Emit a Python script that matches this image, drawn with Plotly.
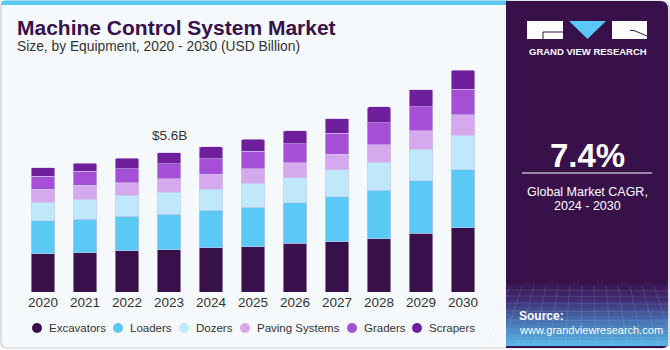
import plotly.graph_objects as go

years = ["2020", "2021", "2022", "2023", "2024", "2025", "2026", "2027", "2028", "2029", "2030"]
excavators = [1.54, 1.57, 1.66, 1.69, 1.78, 1.82, 1.96, 2.01, 2.14, 2.36, 2.59]
loaders = [1.33, 1.35, 1.39, 1.43, 1.51, 1.58, 1.63, 1.81, 1.94, 2.10, 2.31]
dozers = [0.73, 0.80, 0.83, 0.88, 0.84, 0.96, 1.00, 1.08, 1.14, 1.27, 1.39]
paving_systems = [0.53, 0.56, 0.51, 0.55, 0.59, 0.59, 0.61, 0.64, 0.70, 0.75, 0.83]
graders = [0.52, 0.56, 0.57, 0.61, 0.64, 0.71, 0.76, 0.83, 0.87, 0.95, 1.03]
scrapers = [0.34, 0.33, 0.41, 0.43, 0.47, 0.47, 0.51, 0.59, 0.64, 0.70, 0.76]
series_names = ["Excavators", "Loaders", "Dozers", "Paving Systems", "Graders", "Scrapers"]
series_values = [excavators, loaders, dozers, paving_systems, graders, scrapers]
colors = ["#38104a", "#5bc9f6", "#bfe9fa", "#d6a9ee", "#a54fd7", "#6f1f9c"]
label_year = "2023"
label_text = "$5.6B"

FONT = "Liberation Sans"
L, W, T, B = 22, 462, 60, 292
H = B - T


def px(x):
    return (x - L) / W


def py(y):
    return (B - y) / H


fig = go.Figure()
for name, vals, col in zip(series_names, series_values, colors):
    fig.add_trace(go.Bar(
        x=years, y=vals, name=name, marker_color=col,
        marker_line=dict(color="rgba(205,200,235,0.7)", width=0.8),
        showlegend=False,
        hovertemplate=name + " %{x}: %{y:.2f}B<extra></extra>",
    ))

shapes = []
annotations = []


def rounded_rect(x0, y0, x1, y1, r_tl=0, r_tr=0, r_br=0, r_bl=0):
    X = lambda v: px(v)
    Y = lambda v: py(v)
    p = f"M {X(x0 + r_tl)},{Y(y0)} L {X(x1 - r_tr)},{Y(y0)} Q {X(x1)},{Y(y0)} {X(x1)},{Y(y0 + r_tr)} "
    p += f"L {X(x1)},{Y(y1 - r_br)} Q {X(x1)},{Y(y1)} {X(x1 - r_br)},{Y(y1)} "
    p += f"L {X(x0 + r_bl)},{Y(y1)} Q {X(x0)},{Y(y1)} {X(x0)},{Y(y1 - r_bl)} "
    p += f"L {X(x0)},{Y(y0 + r_tl)} Q {X(x0)},{Y(y0)} {X(x0 + r_tl)},{Y(y0)} Z"
    return p


# card background
shapes.append(dict(type="path", xref="paper", yref="paper", layer="below",
                   path=rounded_rect(1, 1, 669, 348, 6, 6, 6, 6),
                   fillcolor="#f5f9fc", line=dict(color="#c9cdd2", width=1.2)))
# top stripe
shapes.append(dict(type="path", xref="paper", yref="paper", layer="below",
                   path=rounded_rect(1, 0.5, 510, 5, 4, 0, 0, 0),
                   fillcolor="#5bc9f6", line=dict(width=0)))

# right panel
shapes.append(dict(type="path", xref="paper", yref="paper", layer="above",
                   path=rounded_rect(506, 1, 668, 348, 0, 8, 6, 0),
                   fillcolor="#38104a", line=dict(width=0)))
# gradient bands at bottom of panel
stops = [(280, (56, 16, 74)), (300, (66, 45, 115)), (320, (70, 110, 175)), (348, (92, 190, 235))]
yb = 280
step = 3
while yb < 346:
    y_mid = yb + step / 2
    for (ya, ca), (yc, cc) in zip(stops[:-1], stops[1:]):
        if ya <= y_mid <= yc:
            f = (y_mid - ya) / (yc - ya)
            c = tuple(int(ca[i] + (cc[i] - ca[i]) * f) for i in range(3))
            break
    shapes.append(dict(type="rect", xref="paper", yref="paper", layer="above",
                       x0=px(506), x1=px(668), y0=py(yb), y1=py(min(yb + step + 0.5, 346)),
                       fillcolor=f"rgb{c}", line=dict(width=0)))
    yb += step
# faint grid texture
for gx in range(510, 668, 12):
    shapes.append(dict(type="line", xref="paper", yref="paper", layer="above",
                       x0=px(gx), x1=px(gx + (gx - 587) * 0.3), y0=py(286), y1=py(346),
                       line=dict(color="rgba(200,220,255,0.18)", width=0.8)))
for gy in [290, 296, 303, 311, 320, 330, 341]:
    shapes.append(dict(type="line", xref="paper", yref="paper", layer="above",
                       x0=px(506), x1=px(668), y0=py(gy), y1=py(gy + 1),
                       line=dict(color="rgba(200,220,255,0.18)", width=0.8)))

# logo
shapes.append(dict(type="rect", xref="paper", yref="paper", layer="above",
                   x0=px(527), x1=px(563), y0=py(21), y1=py(39),
                   fillcolor="white", line=dict(width=0)))
shapes.append(dict(type="path", xref="paper", yref="paper", layer="above",
                   path=f"M {px(543)},{py(39)} L {px(543)},{py(32)} L {px(563)},{py(32)}",
                   line=dict(color="#38104a", width=1)))
shapes.append(dict(type="path", xref="paper", yref="paper", layer="above",
                   path=f"M {px(569)},{py(21)} L {px(606)},{py(21)} L {px(587.5)},{py(39)} Z",
                   fillcolor="#5bc9f6", line=dict(width=0)))
shapes.append(dict(type="rect", xref="paper", yref="paper", layer="above",
                   x0=px(612), x1=px(647), y0=py(21), y1=py(39),
                   fillcolor="white", line=dict(width=0)))
shapes.append(dict(type="path", xref="paper", yref="paper", layer="above",
                   path=f"M {px(630)},{py(30.5)} L {px(634)},{py(30.5)} L {px(647)},{py(36)}",
                   line=dict(color="#38104a", width=1)))
# CAGR separator
shapes.append(dict(type="line", xref="paper", yref="paper", layer="above",
                   x0=px(522), x1=px(652), y0=py(173), y1=py(173),
                   line=dict(color="white", width=1)))


def txt(text, x, y, size, color="#333333", bold=False, xanchor="left", yanchor="middle", family=FONT):
    annotations.append(dict(text=f"<b>{text}</b>" if bold else text, x=px(x), y=py(y),
                            xref="paper", yref="paper", xanchor=xanchor, yanchor=yanchor,
                            showarrow=False, font=dict(size=size, color=color, family=family)))


txt("Machine Control System Market", 15, 27, 21, color="#38104a", bold=True)
txt("Size, by Equipment, 2020 - 2030 (USD Billion)", 15, 47, 13.8, color="#333333")
txt("GRAND VIEW RESEARCH", 587.5, 51, 9.5, color="white", bold=True, xanchor="center")
txt("7.4%", 587, 155, 33, color="white", bold=True, xanchor="center")
txt("Global Market CAGR,", 587, 192, 12.5, color="white", xanchor="center")
txt("2024 - 2030", 587, 206, 12.5, color="white", xanchor="center")
txt("Source:", 517, 316, 12, color="white", bold=True)
txt("www.grandviewresearch.com", 517, 330, 11, color="white")

# legend (manual, circle markers)
marker_x = [37, 118, 184, 245, 352, 417]
for name, col, mx in zip(series_names, colors, marker_x):
    shapes.append(dict(type="circle", xref="paper", yref="paper", layer="above",
                       x0=px(mx - 5), x1=px(mx + 5), y0=py(323), y1=py(333),
                       fillcolor=col, line=dict(width=0)))
    txt(name, mx + 10, 328, 11.5, color="#333333")

# value label above 2023 (category axis: position by category index)
idx = years.index(label_year)
total = sum(v[idx] for v in series_values)
annotations.append(dict(text=label_text, x=idx, y=total, xref="x", yref="y",
                        xanchor="center", yanchor="bottom", yshift=8, showarrow=False,
                        font=dict(size=13.5, color="#333333", family=FONT)))

fig.update_layout(
    width=670, height=350, autosize=False,
    margin=dict(l=L, r=670 - L - W, t=T, b=350 - B, pad=0),
    barmode="stack", bargap=0.43, barcornerradius=2,
    paper_bgcolor="white", plot_bgcolor="rgba(0,0,0,0)",
    shapes=shapes, annotations=annotations, showlegend=False,
    font=dict(family=FONT, color="#333333"),
)
fig.update_xaxes(type="category", range=[-0.5, 10.5], showgrid=False, showline=False,
                 ticks="", tickfont=dict(size=13.5, color="#333333", family=FONT), fixedrange=True)
fig.update_yaxes(range=[0, H / 24.9], showgrid=False, zeroline=False, showticklabels=False,
                 fixedrange=True)

fig.write_html("out.html")
